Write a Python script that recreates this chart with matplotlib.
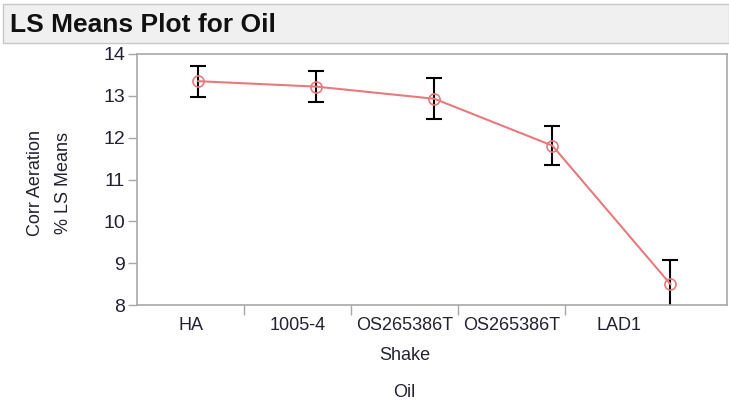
import matplotlib
matplotlib.use("Agg")
import matplotlib.pyplot as plt
from matplotlib.patches import Rectangle

# --- data ---
oils = ["HA", "1005-4", "OS265386T\nShake", "OS265386T", "LAD1"]
ls_means = [13.35, 13.22, 12.93, 11.81, 8.50]
std_err = [0.37, 0.37, 0.49, 0.47, 0.58]
y_ticks = [8, 9, 10, 11, 12, 13, 14]

W, H = 729, 403
plt.rcParams["font.family"] = ["Liberation Sans", "DejaVu Sans"]
text_col = "#222233"
spine_col = "#a8a8a8"

fig = plt.figure(figsize=(W / 100, H / 100), dpi=100)

# title bar (figure pixel coords)
bar = Rectangle((3 / W, 1 - 43 / H), (W - 3) / W, 39 / H, transform=fig.transFigure,
                facecolor="#f0f0f0", edgecolor="#c8c8c8", linewidth=1.0)
fig.patches.append(bar)
fig.text(10 / W, 1 - 25 / H, "LS Means Plot for Oil", fontsize=19, fontweight="bold",
         color="#111111", va="center", ha="left")

left, right, top, bottom = 137, 727, 54, 305
ax = fig.add_axes([left / W, 1 - bottom / H, (right - left) / W, (bottom - top) / H])

x = list(range(len(oils)))
ax.errorbar(x, ls_means, yerr=std_err, fmt="none", ecolor="black", elinewidth=1.5,
            capsize=6, capthick=1.5, zorder=2)
ax.plot(x, ls_means, color="#e87a7e", linewidth=1.5, marker="o", markersize=8,
        markerfacecolor="none", markeredgecolor="#e87a7e", markeredgewidth=1.2, zorder=3)

ax.set_xlim(-0.52, 4.48)
ax.set_ylim(8, 14)
ax.set_yticks(y_ticks)
ax.tick_params(axis="y", direction="out", length=6.5, width=1, color=spine_col,
               labelsize=14, labelcolor=text_col, pad=2)

# category labels sit in equal cells along the left part of the axis (JMP style)
cell = 0.907
x0 = -0.52
bounds = [x0 + cell * (i + 1) for i in range(len(oils) - 1)]
centers = [x0 + cell * (i + 0.5) for i in range(len(oils))]
ax.set_xticks(bounds)
ax.set_xticklabels([])
ax.tick_params(axis="x", which="major", direction="out", length=7.5, width=1, color=spine_col)
ax.set_xticks(centers, minor=True)
ax.set_xticklabels(oils, minor=True, fontsize=13, color=text_col, va="top", linespacing=2.0)
ax.tick_params(axis="x", which="minor", length=0, pad=9)

for s in ax.spines.values():
    s.set_color(spine_col)
    s.set_linewidth(1.2)

fig.text(35 / W, 1 - 183 / H, "Corr Aeration", rotation=90, fontsize=13,
         color=text_col, ha="center", va="center")
fig.text(63 / W, 1 - 183 / H, "% LS Means", rotation=90, fontsize=13,
         color=text_col, ha="center", va="center")
ax.text(x0 + cell * len(oils) / 2, -0.35, "Oil", transform=ax.get_xaxis_transform(),
        fontsize=13, color=text_col, ha="center", va="center")

fig.savefig("out.png", dpi=100)
